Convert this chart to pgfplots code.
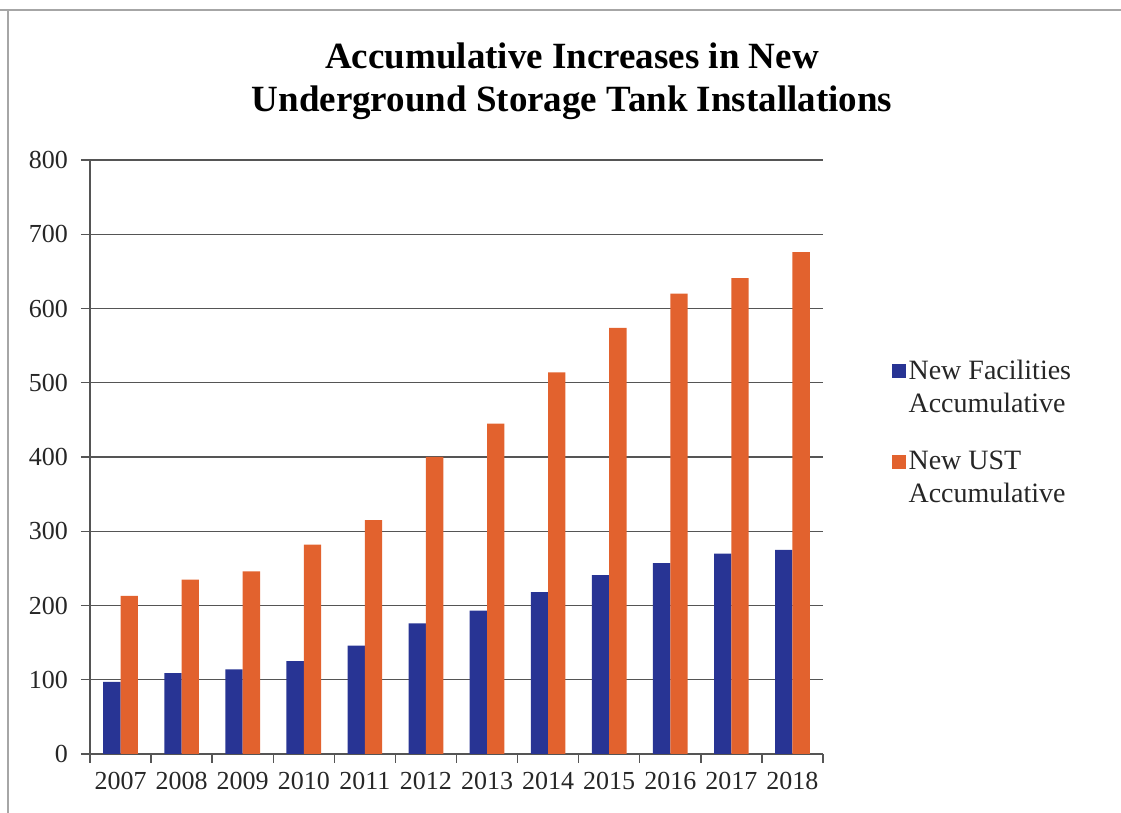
\documentclass[border=0pt]{standalone}
\usepackage{pgfplots}
\pgfplotsset{compat=1.18}
\usepackage{fontspec}
\setmainfont{Liberation Serif}
\definecolor{barblue}{RGB}{40,52,148}
\definecolor{barorange}{RGB}{226,98,46}
\definecolor{gridgray}{RGB}{85,85,85}
\begin{document}
\begin{tikzpicture}
\begin{axis}[
  at={(0,0)}, anchor=south west,
  scale only axis,
  width=366.5pt, height=297pt,
  ybar=0pt, bar width=8.65pt,
  xmin=-0.5, xmax=11.5,
  ymin=0, ymax=800,
  ytick={0,100,...,800},
  xtick={0,...,11},
  xticklabels={2007,2008,2009,2010,2011,2012,2013,2014,2015,2016,2017,2018},
  xtick style={draw=none},
  extra x ticks={-0.5,0.5,...,11.5},
  extra x tick labels={},
  extra x tick style={xtick style={draw=gridgray, line width=0.7pt}, major tick length=4.5pt, tick align=outside},
  tick align=outside,
  major tick length=4.5pt,
  ytick style={draw=gridgray, line width=0.7pt},
  axis lines*=left,
  axis line style={draw=gridgray, line width=0.7pt},
  ymajorgrids,
  grid style={draw=gridgray, line width=0.7pt},
  tick label style={font=\fontsize{13pt}{15pt}\selectfont, text=black!85},
  /pgf/number format/assume math mode=true,
  yticklabel style={xshift=-3pt},
  xticklabel style={yshift=-1pt},
  legend style={draw=none, fill=none, at={(axis description cs:1.093,0.669)}, anchor=north west,
    font=\fontsize{14pt}{16.5pt}\selectfont, row sep=15pt, inner sep=0pt,
    nodes={inner sep=1.5pt, text=black!85}, cells={align=left}},
  legend cell align=left,
  legend image code/.code={\fill[#1] (0pt,5pt) rectangle (7pt,12pt);},
]
\addplot[fill=barblue, draw=none] coordinates {(0,97) (1,109) (2,114) (3,125) (4,146) (5,176) (6,193) (7,218) (8,241) (9,257) (10,270) (11,275)};
\addlegendentry{New Facilities\\Accumulative}
\addplot[fill=barorange, draw=none] coordinates {(0,213) (1,235) (2,246) (3,282) (4,315) (5,400) (6,445) (7,514) (8,574) (9,620) (10,641) (11,676)};
\addlegendentry{New UST\\Accumulative}
\end{axis}
\node[align=center, font=\fontsize{18.5pt}{21.5pt}\selectfont\bfseries] at (241pt,336.5pt) {Accumulative Increases in New\\Underground Storage Tank Installations};
\draw[gray!70, line width=1pt] (-45pt,372pt) -- (515.5pt,372pt);
\draw[gray!70, line width=1pt] (-41pt,-29.5pt) -- (-41pt,372pt);
\pgfresetboundingbox
\path[use as bounding box] (-45pt,-29.5pt) rectangle (515.5pt,377pt);
\end{tikzpicture}
\end{document}
